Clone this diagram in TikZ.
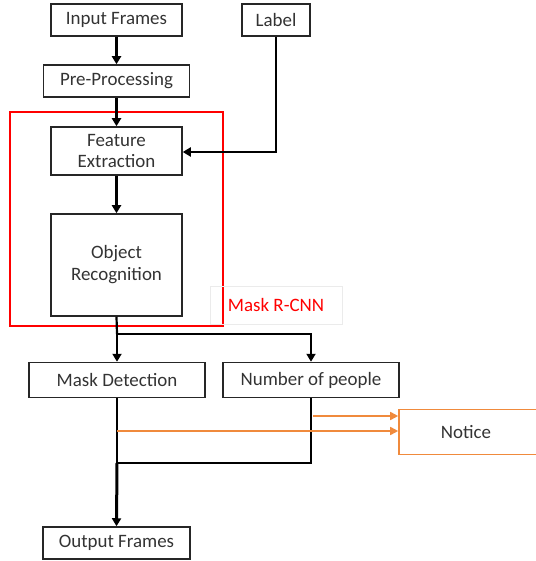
\documentclass[tikz,border=0pt]{standalone}
\usepackage{fontspec}
\setmainfont{Carlito}
\usetikzlibrary{arrows.meta}
\definecolor{txt}{HTML}{333333}
\definecolor{orng}{HTML}{F08A3C}
\tikzset{
  blk/.style={draw=black!85, line width=1.5bp, text=txt, font=\fontsize{19}{22}\selectfont, inner sep=0pt, align=center},
  arr/.style={line width=2.2bp, -{Triangle[length=8bp,width=9bp]}},
  lin/.style={line width=2.2bp},
  oarr/.style={draw=orng, line width=1.6bp, -{Triangle[length=8bp,width=8bp]}},
}
\begin{document}
\begin{tikzpicture}[x=1bp,y=-1bp]
\path[use as bounding box] (0,0) rectangle (536,561);
\clip (0,0) rectangle (536,561);
% boxes
\node[blk, minimum width=131bp, minimum height=32bp] (inp) at (116.5,20) {Input Frames};
\node[blk, minimum width=68bp, minimum height=32bp] (lab) at (276,20) {Label};
\node[blk, minimum width=146bp, minimum height=32bp] (pre) at (116.5,81) {Pre-Processing};
\node[draw=red, line width=1.5bp, minimum width=213bp, minimum height=214bp, inner sep=0pt] (rcnn) at (116.5,219) {};
\node[blk, minimum width=131bp, minimum height=48bp] (fe) at (116.5,151) {Feature\\Extraction};
\node[blk, minimum width=131bp, minimum height=102bp] (obj) at (116.5,265) {Object\\Recognition};
\node[draw=black!8, line width=0.8bp, minimum width=132bp, minimum height=38bp, text=red, font=\fontsize{19}{22}\selectfont, inner sep=0pt] (mlab) at (276,305) {Mask R-CNN};
\node[blk, minimum width=176bp, minimum height=35bp] (md) at (117,380) {Mask Detection};
\node[blk, minimum width=176bp, minimum height=35bp] (np) at (311,380) {Number of people};
\node[draw=orng, line width=1.6bp, minimum width=145bp, minimum height=45bp, inner sep=0pt] (not) at (471.5,432) {};
\node[text=txt, font=\fontsize{19}{22}\selectfont] (nott) at (466,432) {Notice};
\node[blk, minimum width=147bp, minimum height=32bp] (out) at (116.5,543) {Output Frames};
% coordinates
\coordinate (lc) at (276,152);
\coordinate (br) at (117,334);
\coordinate (brr) at (311,334);
\coordinate (o1) at (313,416);
\coordinate (o2) at (117,431);
\coordinate (j1) at (311,463);
\coordinate (j2) at (117,463);
% connectors
\draw[arr] (inp.south) -- (pre.north);
\draw[arr] (pre.south) -- (fe.north);
\draw[arr] (lab.south) -- (lc) -- (fe.east |- lc);
\draw[arr] (fe.south) -- (obj.north);
\draw[lin] (obj.south) -- (br);
\draw[arr] (br) -- (md.north);
\draw[arr] (br) -- (brr) -- (np.north);
\draw[lin] (md.south) -- (j2);
\draw[lin] (np.south) -- (j1) -- (j2);
\draw[arr, line width=3bp] (j2) -- (out.north);
\draw[oarr] (o1) -- (not.west |- o1);
\draw[oarr] (o2) -- (not.west |- o2);
\end{tikzpicture}
\end{document}
